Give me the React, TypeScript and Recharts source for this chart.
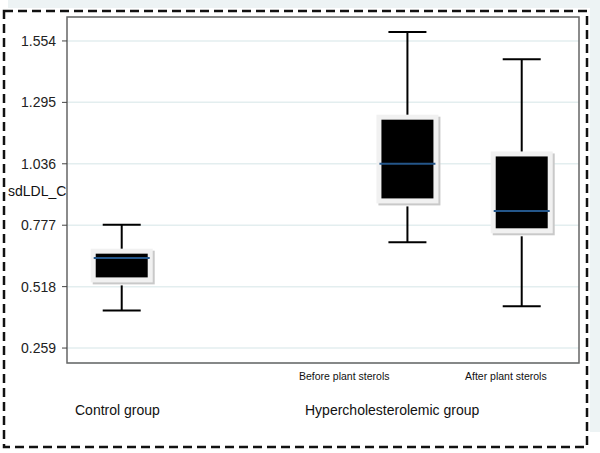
import React from 'react';
import { ComposedChart, Bar, XAxis, YAxis, CartesianGrid, ReferenceArea } from 'recharts';

// box plot values
const groups = ['Control group', 'Before plant sterols', 'After plant sterols'];
const xPos = [1, 3.5, 4.5];
const whiskerLow = [0.417, 0.705, 0.435];
const q1 = [0.557, 0.89, 0.764];
const median = [0.639, 1.036, 0.837];
const q3 = [0.657, 1.222, 1.067];
const whiskerHigh = [0.779, 1.592, 1.477];

const yTicks = [0.259, 0.518, 0.777, 1.036, 1.295, 1.554];
const yDomain = [0.196, 1.655];
const xDomain = [0.52, 5];

const data = groups.map((name, i) => ({
  name,
  x: xPos[i],
  base: whiskerLow[i],
  lowerWhisker: q1[i] - whiskerLow[i],
  box: q3[i] - q1[i],
  upperWhisker: whiskerHigh[i] - q3[i],
  q1: q1[i],
  q3: q3[i],
  median: median[i],
}));

const FONT = '"Liberation Sans", Arial, sans-serif';

const LowerWhisker = (props: any) => {
  const { x, y, width, height } = props;
  const cx = x + width / 2;
  return (
    <g>
      <line x1={cx} x2={cx} y1={y + 8} y2={y + height} stroke="#000" strokeWidth={2} />
      <line x1={cx - 19} x2={cx + 19} y1={y + height} y2={y + height} stroke="#000" strokeWidth={2} />
    </g>
  );
};

const UpperWhisker = (props: any) => {
  const { x, y, width, height } = props;
  const cx = x + width / 2;
  return (
    <g>
      <line x1={cx} x2={cx} y1={y} y2={y + height - 5} stroke="#000" strokeWidth={2} />
      <line x1={cx - 19} x2={cx + 19} y1={y} y2={y} stroke="#000" strokeWidth={2} />
    </g>
  );
};

const BoxShape = (props: any) => {
  const { x, y, width, height, payload } = props;
  const cx = x + width / 2;
  const my = y + (height * (payload.q3 - payload.median)) / (payload.q3 - payload.q1);
  return (
    <g>
      <rect x={cx - 29} y={y - 3} width={62} height={height + 10} fill="#c9c9c9" />
      <rect x={cx - 31} y={y - 5} width={62} height={height + 10} fill="#f1f1f1" />
      <rect x={cx - 26} y={y} width={52} height={height} fill="#000" />
      <line x1={cx - 28} x2={cx + 28} y1={my} y2={my} stroke="#24568a" strokeWidth={2} />
    </g>
  );
};

const label = (text: string, left: number, top: number, size: number) => (
  <div
    style={{
      position: 'absolute',
      left,
      top,
      fontFamily: FONT,
      fontSize: size,
      color: '#111',
      whiteSpace: 'nowrap',
    }}
  >
    {text}
  </div>
);

export default function App() {
  return (
    <div style={{ position: 'absolute', left: 0, top: 0, width: 600, height: 453, background: '#fff', overflow: 'hidden' }}>
      <div style={{ position: 'absolute', left: 8, top: 0, width: 592, height: 8, background: '#edf3f4' }} />
      <div style={{ position: 'absolute', left: 590, top: 0, width: 10, height: 432, background: '#edf3f4' }} />
      <svg width={600} height={453} style={{ position: 'absolute', left: 0, top: 0 }}>
        <rect x={4} y={11} width={583} height={436} fill="none" stroke="#111" strokeWidth={2.5} strokeDasharray="9 5" />
      </svg>
      <div style={{ position: 'absolute', left: 0, top: 0 }}>
        <ComposedChart
          width={600}
          height={453}
          data={data}
          margin={{ top: 17, right: 21, bottom: 90, left: 0 }}
        >
          <CartesianGrid vertical={false} stroke="#e3eeef" strokeWidth={1.5} />
          <XAxis dataKey="x" type="number" domain={xDomain} hide />
          <YAxis
            type="number"
            domain={yDomain}
            ticks={yTicks}
            allowDataOverflow
            width={67}
            tickSize={5}
            tickMargin={6}
            axisLine={false}
            tickLine={{ stroke: '#444' }}
            tick={{ fill: '#222', fontSize: 14, fontFamily: FONT }}
            tickFormatter={(v: number) => v.toFixed(3)}
          />
          <ReferenceArea
            x1={xDomain[0]}
            x2={xDomain[1]}
            y1={yDomain[0]}
            y2={yDomain[1]}
            fill="none"
            stroke="#666"
            strokeWidth={1.5}
          />
          <Bar dataKey="base" stackId="b" fill="transparent" barSize={62} isAnimationActive={false} />
          <Bar dataKey="lowerWhisker" stackId="b" barSize={62} shape={LowerWhisker} isAnimationActive={false} />
          <Bar dataKey="box" stackId="b" barSize={62} shape={BoxShape} isAnimationActive={false} />
          <Bar dataKey="upperWhisker" stackId="b" barSize={62} shape={UpperWhisker} isAnimationActive={false} />
        </ComposedChart>
      </div>
      {label('sdLDL_C', 8, 183, 14)}
      {label(groups[1], 299, 370, 10.5)}
      {label(groups[2], 465, 370, 10.5)}
      {label('Control group', 75, 402, 14)}
      {label('Hypercholesterolemic group', 305, 402, 14)}
    </div>
  );
}
